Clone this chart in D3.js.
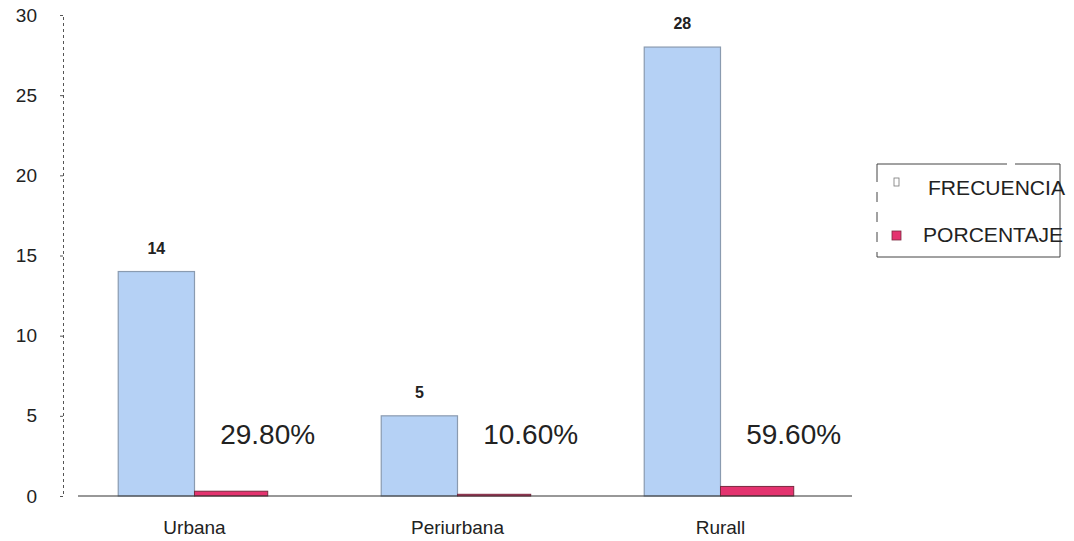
<!DOCTYPE html>
<html>
<head>
<meta charset="utf-8">
<script src="https://cdn.jsdelivr.net/npm/d3@7/dist/d3.min.js"></script>
<style>
  html, body { margin: 0; padding: 0; background: #fff; }
  svg { display: block; font-family: "Liberation Sans", Arial, sans-serif; }
</style>
</head>
<body>
<svg id="chart" width="1074" height="541"></svg>
<script>
// Zona de procedencia: frecuencia y porcentaje
const categories = ["Urbana", "Periurbana", "Rurall"];
const frecuencia = [14, 5, 28];
const porcentaje = [0.298, 0.106, 0.596];
const porcentajeLabels = ["29.80%", "10.60%", "59.60%"];
const yTicks = [0, 5, 10, 15, 20, 25, 30];
const seriesNames = ["FRECUENCIA", "PORCENTAJE"];

const svg = d3.select("#chart");
const plot = { left: 63, right: 852, top: 15, bottom: 496 };

const x = d3.scaleBand().domain(categories).range([plot.left, plot.right]).paddingInner(0.42).paddingOuter(0.21);
const y = d3.scaleLinear().domain([0, 30]).range([plot.bottom, plot.top]);
const half = x.bandwidth() / 2;

const colors = { blue: "#b5d1f5", blueStroke: "#8a9bb0", pink: "#e4336f", pinkStroke: "#7a2a40" };

// Eje Y
const yAxis = d3.axisLeft(y).tickValues(yTicks).tickSize(3).tickPadding(23);
const gy = svg.append("g").attr("transform", `translate(${plot.left},0)`).call(yAxis);
gy.select(".domain").attr("stroke", "#555").attr("stroke-dasharray", "3,3").attr("stroke-width", 1);
gy.selectAll(".tick line").attr("stroke", "#555");
gy.selectAll(".tick text").attr("font-size", 19).attr("fill", "#222")
  .attr("font-family", "Liberation Sans, Arial, sans-serif");

// Barras de frecuencia
svg.append("g").selectAll("rect").data(categories).join("rect")
  .attr("x", d => x(d))
  .attr("y", (d, i) => y(frecuencia[i]))
  .attr("width", half)
  .attr("height", (d, i) => y(0) - y(frecuencia[i]))
  .attr("fill", colors.blue)
  .attr("stroke", colors.blueStroke)
  .attr("stroke-width", 1.2);

// Barras de porcentaje
svg.append("g").selectAll("rect").data(categories).join("rect")
  .attr("x", d => x(d) + half)
  .attr("y", (d, i) => y(porcentaje[i]))
  .attr("width", half * 0.96)
  .attr("height", (d, i) => y(0) - y(porcentaje[i]))
  .attr("fill", colors.pink)
  .attr("stroke", colors.pinkStroke)
  .attr("stroke-width", 1);

// Línea base
svg.append("line")
  .attr("x1", plot.left + 15).attr("x2", plot.right)
  .attr("y1", y(0)).attr("y2", y(0))
  .attr("stroke", "#333").attr("stroke-width", 1.2);

// Etiquetas de frecuencia
svg.append("g").selectAll("text").data(categories).join("text")
  .attr("x", d => x(d) + half / 2)
  .attr("y", (d, i) => y(frecuencia[i]) - 18)
  .attr("text-anchor", "middle")
  .attr("font-size", 16)
  .attr("font-weight", "bold")
  .attr("fill", "#222")
  .text((d, i) => frecuencia[i]);

// Etiquetas de porcentaje
svg.append("g").selectAll("text").data(categories).join("text")
  .attr("x", d => x(d) + half * 1.5 + 35)
  .attr("y", y(0) - 52)
  .attr("text-anchor", "middle")
  .attr("font-size", 28)
  .attr("fill", "#222")
  .text((d, i) => porcentajeLabels[i]);

// Etiquetas del eje X
svg.append("g").selectAll("text").data(categories).join("text")
  .attr("x", d => x(d) + x.bandwidth() / 2)
  .attr("y", 534)
  .attr("text-anchor", "middle")
  .attr("font-size", 19)
  .attr("fill", "#222")
  .text(d => d);

// Leyenda
const legend = svg.append("g").attr("transform", "translate(877,164)");
legend.append("rect").attr("width", 183).attr("height", 93)
  .attr("fill", "none").attr("stroke", "#444").attr("stroke-width", 1)
  .attr("stroke-dasharray", "130,8,45,0,93,0,183,0,5,10,10,10,10,10,10,10");
const legendColors = [["#ffffff", "#777"], [colors.pink, colors.pinkStroke]];
seriesNames.forEach((name, i) => {
  const row = legend.append("g").attr("transform", `translate(0,${26 + i * 47})`);
  row.append("rect").attr("x", i === 0 ? 17 : 15).attr("y", i === 0 ? -12 : -6).attr("width", i === 0 ? 5 : 9).attr("height", i === 0 ? 8 : 9)
    .attr("fill", legendColors[i][0]).attr("stroke", legendColors[i][1]).attr("stroke-width", 0.8);
  row.append("text").attr("x", i === 0 ? 51 : 46).attr("y", 0)
    .attr("font-size", 20).attr("fill", "#222")
    .attr("dominant-baseline", "middle")
    .attr("textLength", i === 0 ? 137 : 140)
    .attr("lengthAdjust", "spacingAndGlyphs")
    .text(name);
});
</script>
</body>
</html>
